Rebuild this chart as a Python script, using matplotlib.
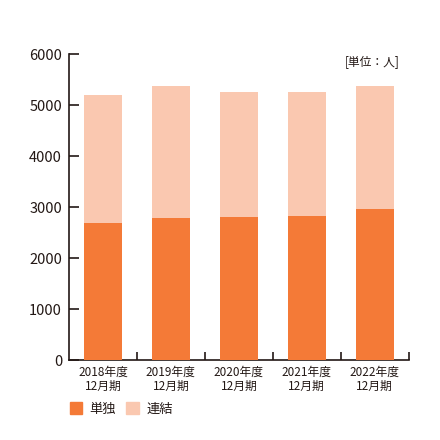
import numpy as np
import matplotlib.pyplot as plt
from matplotlib.patches import Patch

plt.rcParams['font.family'] = ['Noto Sans CJK JP', 'DejaVu Sans']

# data
periods = ['2018年度\n12月期', '2019年度\n12月期', '2020年度\n12月期',
           '2021年度\n12月期', '2022年度\n12月期']
tandoku = [2700, 2780, 2810, 2820, 2970]   # 単独
renketsu = [5210, 5380, 5255, 5270, 5380]  # 連結

c_dark = '#F47A37'
c_light = '#FAC8B0'
c_text = '#231815'

fig = plt.figure(figsize=(4.4, 4.4), dpi=100)
ax = fig.add_axes([69/440, 80/440, (408.7-69)/440, (360-54.5)/440])

x = np.arange(len(periods))
ax.bar(x, renketsu, width=0.56, color=c_light, zorder=2)
ax.bar(x, tandoku, width=0.56, color=c_dark, zorder=3)

ax.set_xlim(-0.5, len(periods) - 0.5)
ax.set_ylim(0, 6000)
ax.set_yticks(np.arange(0, 6001, 1000))

# category separators as tick marks, labels centred under bars
ax.set_xticks(x + 0.5)
ax.set_xticklabels([])
ax.set_xticks(x, minor=True)
ax.set_xticklabels(periods, minor=True, fontsize=8.5, color=c_text, linespacing=1.15)
ax.tick_params(axis='x', which='minor', length=0, pad=4)
ax.tick_params(axis='x', which='major', direction='in', length=6, width=1.2, color=c_text)
ax.tick_params(axis='y', direction='in', length=7, width=1.2, color=c_text,
               labelsize=10.5, labelcolor=c_text, pad=5)

for s in ['top', 'right']:
    ax.spines[s].set_visible(False)
for s in ['left', 'bottom']:
    ax.spines[s].set_linewidth(1.2)
    ax.spines[s].set_color(c_text)

fig.text(400/440, 1 - 62/440, '[単位：人]', ha='right', va='center',
         fontsize=8.5, color=c_text)

handles = [Patch(color=c_dark, label='単独'), Patch(color=c_light, label='連結')]
fig.legend(handles=handles, loc='center left', bbox_to_anchor=(63/440, 1 - 409/440),
           ncol=2, frameon=False, handlelength=0.95, handleheight=0.95,
           handletextpad=0.55, columnspacing=0.8, borderpad=0, fontsize=9.5,
           labelcolor=c_text)

fig.savefig('out.png', dpi=100)
